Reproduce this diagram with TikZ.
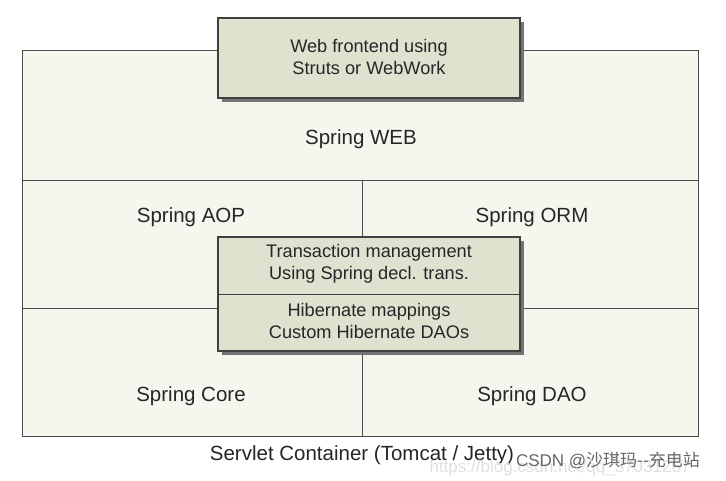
\documentclass[tikz,border=0pt]{standalone}
\usepackage{fontspec}
\setmainfont{Liberation Sans}
\newfontfamily\cjk{Noto Sans CJK SC}
\begin{document}
\begin{tikzpicture}[x=1pt,y=-1pt,
  lbl/.style={font=\fontsize{20.5}{24}\selectfont, text=black!85},
  box/.style={draw=black!75, line width=1.2pt, fill=boxg},
  btxt/.style={font=\fontsize{18.2}{22.5}\selectfont, text=black!85, align=center}]
\definecolor{boxg}{HTML}{DEE3D0}
\definecolor{bg}{HTML}{F6F6EF}
\useasboundingbox (0,0) rectangle (726,480);
\fill[white] (0,0) rectangle (726,480);
\draw[fill=bg, draw=black!70, line width=0.8pt] (22,50) rectangle (698,436);
\draw[black!70, line width=0.8pt] (22,180) -- (698,180);
\draw[black!70, line width=0.8pt] (22,308) -- (698,308);
\draw[black!70, line width=0.8pt] (362,180) -- (362,436);
% shadows
\fill[black!55] (222,22) rectangle (524,102);
\fill[black!55] (222,241) rectangle (524,355);
\draw[box] (218,18) rectangle (520,98);
\draw[box] (218,237) rectangle (520,351);
\draw[black!75, line width=1pt] (218,294) -- (520,294);
\node[btxt] (web) at (369,57) {Web frontend using\\Struts or WebWork};
\node[btxt] (tx) at (369,264) {Transaction management\\Using Spring decl. trans.};
\node[btxt] (hib) at (369,321) {Hibernate mappings\\Custom Hibernate DAOs};
\node[lbl] (sweb) at (361,139) {Spring WEB};
\node[lbl] (saop) at (191,217) {Spring AOP};
\node[lbl] (sorm) at (532,217) {Spring ORM};
\node[lbl] (score) at (191,396) {Spring Core};
\node[lbl] (sdao) at (532,396) {Spring DAO};
\node[lbl] (serv) at (362,455) {Servlet Container (Tomcat / Jetty)};
\node[font=\fontsize{17}{20}\selectfont, text=black!12] (url) at (560,468) {https://blog.csdn.net/qq\_37031267};
\node[font=\fontsize{17}{20}\selectfont, text=black!60] (csdn) at (608,460) {CSDN @{\cjk 沙琪玛--充电站}};
\end{tikzpicture}
\end{document}
